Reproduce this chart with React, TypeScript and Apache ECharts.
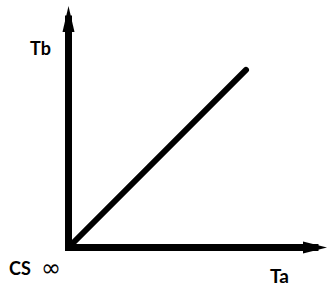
import React, { useEffect, useRef } from "react";
import * as echarts from "echarts";

const xLabel = "Ta";
const yLabel = "Tb";
const originLabel = "CS";
const originSymbol = "∞";
const lineX = [0, 72];
const lineY = [0, 77.7];

export default function App() {
  const ref = useRef<HTMLDivElement>(null);
  useEffect(() => {
    if (!ref.current) return;
    const chart = echarts.init(ref.current, null, { renderer: "svg" });
    const axisCommon = {
      type: "value" as const,
      min: 0,
      max: 100,
      axisLabel: { show: false },
      axisTick: { show: false },
      splitLine: { show: false },
    };
    chart.setOption({
      animation: false,
      backgroundColor: "#fff",
      grid: { left: 68.5, right: 12, top: 19, bottom: 39.5 },
      xAxis: {
        ...axisCommon,
        axisLine: {
          show: true,
          symbol: ["none", "triangle"],
          symbolSize: [12, 24],
          lineStyle: { color: "#000", width: 7, cap: "square" },
        },
      },
      yAxis: {
        ...axisCommon,
        axisLine: {
          show: true,
          symbol: ["none", "triangle"],
          symbolSize: [12, 26],
          lineStyle: { color: "#000", width: 7, cap: "square" },
        },
      },
      series: [
        {
          type: "line",
          data: lineX.map((x, i) => [x, lineY[i]]),
          symbol: "none",
          lineStyle: { color: "#000", width: 6, cap: "round" },
        },
      ],
      graphic: [
        {
          type: "text",
          x: 30,
          y: 48,
          style: {
            text: yLabel,
            font: "bold 18px Lato",
            fill: "#000",
            textVerticalAlign: "middle",
          },
        },
        {
          type: "text",
          x: 9,
          y: 268,
          style: {
            text: originLabel,
            font: "bold 18px Lato",
            fill: "#000",
            textVerticalAlign: "middle",
          },
        },
        {
          type: "text",
          x: 41,
          y: 268,
          style: {
            text: originSymbol,
            font: "24px 'DejaVu Sans'",
            fill: "#000",
            textVerticalAlign: "middle",
          },
        },
        {
          type: "text",
          x: 270,
          y: 275,
          style: {
            text: xLabel,
            font: "bold 19px Lato",
            fill: "#000",
            textVerticalAlign: "middle",
          },
        },
      ],
    });
    return () => chart.dispose();
  }, []);
  return <div ref={ref} style={{ width: 327, height: 287, position: "fixed", left: 0, top: 0 }} />;
}
